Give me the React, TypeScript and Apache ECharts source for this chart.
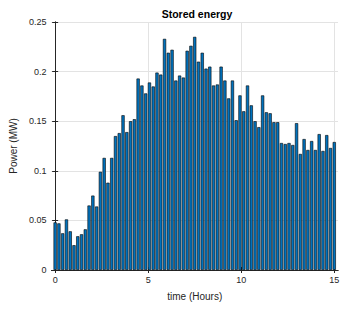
import React, { useEffect, useRef } from "react";
import * as echarts from "echarts";

const TITLE = "Stored energy";
const X_NAME = "time (Hours)";
const Y_NAME = "Power (MW)";
const X_TICKS = [0, 5, 10, 15];
const SPAN_HOURS = 15;

// Stored energy per time step (MW), 75 samples from 0 h to 15 h
const power = [
  0.048, 0.047, 0.037, 0.051, 0.039, 0.025, 0.034, 0.036, 0.041, 0.065,
  0.075, 0.064, 0.099, 0.113, 0.088, 0.113, 0.135, 0.138, 0.156, 0.139,
  0.150, 0.152, 0.193, 0.186, 0.178, 0.189, 0.185, 0.199, 0.197, 0.233,
  0.219, 0.222, 0.191, 0.196, 0.194, 0.221, 0.226, 0.235, 0.210, 0.219,
  0.203, 0.205, 0.186, 0.187, 0.205, 0.191, 0.173, 0.191, 0.151, 0.176,
  0.160, 0.186, 0.166, 0.150, 0.144, 0.176, 0.159, 0.158, 0.149, 0.149,
  0.128, 0.127, 0.128, 0.126, 0.148, 0.117, 0.132, 0.121, 0.130, 0.121,
  0.137, 0.120, 0.136, 0.123, 0.129,
];

// sample times, evenly spaced over the 15 hours
const times = power.map((_, i) => (i * SPAN_HOURS) / (power.length - 1));

export default function App() {
  const ref = useRef<HTMLDivElement>(null);
  useEffect(() => {
    if (!ref.current) return;
    const chart = echarts.init(ref.current, null, { renderer: "svg" });
    const axisColor = "#262626";
    const font = "'Liberation Sans', Arial, sans-serif";
    chart.setOption({
      animation: false,
      backgroundColor: "#ffffff",
      textStyle: { fontFamily: font },
      title: {
        text: TITLE,
        left: 192,
        textAlign: "center",
        top: 3,
        textStyle: { fontSize: 10.5, fontWeight: "bold", color: "#000", fontFamily: font },
      },
      grid: { left: 47, right: 9, top: 22, bottom: 40 },
      xAxis: [
        {
          type: "value",
          min: -0.2,
          max: 15.2,
          name: X_NAME,
          nameLocation: "middle",
          nameGap: 21,
          nameTextStyle: { fontSize: 10, color: axisColor, fontFamily: font },
          axisLine: { show: true, lineStyle: { color: axisColor, width: 1 } },
          axisTick: { show: true, inside: true, length: 3, customValues: X_TICKS, lineStyle: { color: axisColor } },
          axisLabel: { customValues: X_TICKS, fontSize: 9, color: axisColor, margin: 5, fontFamily: font },
          splitLine: { show: true, lineStyle: { color: "#e3e3e3", width: 1 } },
        },
        {
          type: "value",
          position: "top",
          min: -0.2,
          max: 15.2,
          axisLine: { show: true, lineStyle: { color: axisColor, width: 1 } },
          axisTick: { show: true, inside: true, length: 3, customValues: X_TICKS, lineStyle: { color: axisColor } },
          axisLabel: { show: false },
          splitLine: { show: false },
        },
      ],
      yAxis: [
        {
          type: "value",
          min: 0,
          max: 0.25,
          interval: 0.05,
          name: Y_NAME,
          nameLocation: "middle",
          nameGap: 24,
          nameTextStyle: { fontSize: 10, color: axisColor, fontFamily: font },
          axisLine: { show: true, lineStyle: { color: axisColor, width: 1 } },
          axisTick: { show: true, inside: true, length: 3, lineStyle: { color: axisColor } },
          axisLabel: { fontSize: 9, color: axisColor, margin: 5, fontFamily: font },
          splitLine: { show: true, lineStyle: { color: "#e3e3e3", width: 1 } },
        },
        {
          type: "value",
          position: "right",
          min: 0,
          max: 0.25,
          interval: 0.05,
          axisLine: { show: true, lineStyle: { color: axisColor, width: 1 } },
          axisTick: { show: true, inside: true, length: 3, lineStyle: { color: axisColor } },
          axisLabel: { show: false },
          splitLine: { show: false },
        },
      ],
      series: [
        {
          type: "bar",
          xAxisIndex: 0,
          yAxisIndex: 0,
          data: times.map((t, i) => [t, power[i]]),
          barWidth: 3.2,
          itemStyle: { color: "#0072BD", borderColor: "#000000", borderWidth: 0.6 },
        },
      ],
    });
    return () => chart.dispose();
  }, []);
  return (
    <div
      ref={ref}
      style={{ position: "absolute", left: 0, top: 0, width: 347, height: 310, background: "#fff" }}
    />
  );
}
